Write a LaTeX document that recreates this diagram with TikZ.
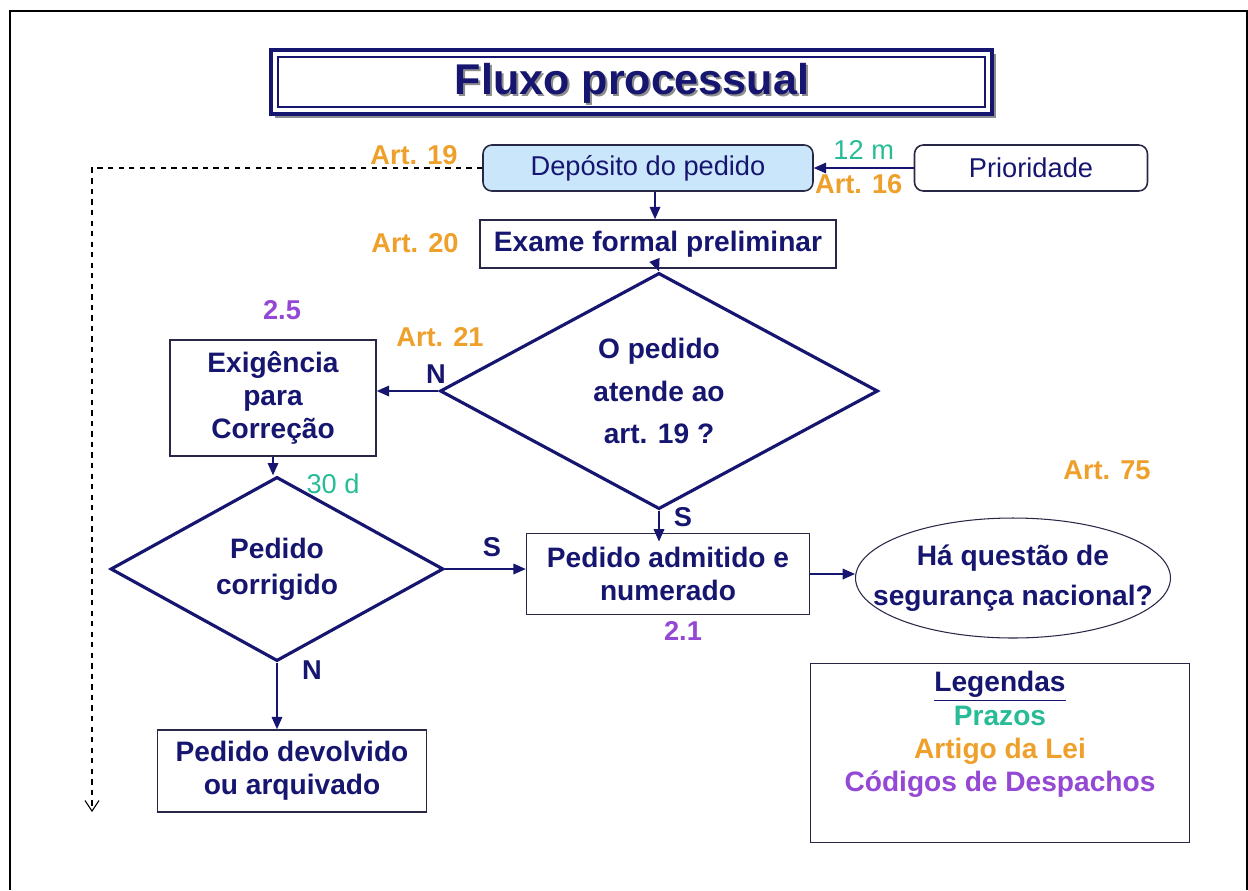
\documentclass[tikz,border=0pt]{standalone}
\usepackage{fontspec}
\setmainfont{Liberation Sans}
\usetikzlibrary{shapes.geometric,arrows.meta,positioning}
\definecolor{navy}{RGB}{22,22,112}
\definecolor{linha}{RGB}{40,40,70}
\definecolor{artigo}{RGB}{238,160,42}
\definecolor{prazo}{RGB}{40,188,150}
\definecolor{codigo}{RGB}{148,72,212}
\definecolor{azulclaro}{RGB}{202,230,250}
\newcommand{\fonte}{\fontsize{15.5}{19}\selectfont}
\newcommand{\fontecx}{\fontsize{16}{19}\selectfont}
\tikzset{
  caixa/.style={rectangle, draw=linha, line width=0.9pt, fill=white, text=navy,
    font=\fontecx\bfseries, align=center, inner sep=0pt},
  redonda/.style={caixa, rounded corners=5pt, font=\fonte},
  decisao/.style={diamond, draw=navy, line width=1.8pt, fill=white, text=navy,
    font=\fontecx\bfseries, align=center, inner sep=0pt},
  rotulo/.style={font=\fonte\bfseries, inner sep=0pt},
  seta/.style={draw=navy, line width=0.9pt, -{Triangle[length=7pt,width=6pt]}}
}
\begin{document}
\begin{tikzpicture}[x=0.02cm,y=-0.02cm]
\useasboundingbox (0,0) rectangle (1248,890);
% moldura
\draw[line width=0.6pt] (10,11) -- (1247,11);
\draw[line width=1.2pt] (10,890) -- (10,11) -- (63,11);
\draw[line width=1.2pt] (1198,11) -- (1247,11) -- (1247,890);
% titulo
\fill[black!45] (275,54) rectangle (996,118);
\draw[navy, line width=2.5pt, fill=white] (271,50) rectangle (992,114);
\draw[navy, line width=0.8pt] (278,57) rectangle (985,107);
\node[text=black!45, font=\fontsize{24.5}{28}\selectfont\bfseries] at (634,85) {Fluxo processual};
\node[text=navy, font=\fontsize{24.5}{28}\selectfont\bfseries] (tit) at (632,83) {Fluxo processual};

% caixas
\node[redonda, fill=azulclaro, minimum width=6.6cm, minimum height=0.92cm] (dep) at (648,168) {Depósito do pedido};
\node[redonda, minimum width=4.66cm, minimum height=0.92cm] (prio) at (1031,168) {Prioridade};
\node[caixa, minimum width=7.12cm, minimum height=0.96cm] (exame) at (658,244) {Exame formal preliminar};
\node[decisao, minimum width=8.76cm, minimum height=4.44cm,
  font=\fontsize{16}{24}\selectfont\bfseries] (d1) at (659,391) {O pedido\\atende ao\\art. 19 ?};
\node[caixa, minimum width=4.12cm, minimum height=2.32cm] (exig) at (273,398) {Exigência\\para\\Correção};
\node[decisao, minimum width=6.66cm, minimum height=3.04cm,
  font=\fontsize{16}{20.5}\selectfont\bfseries] (d2) at (277,569) {Pedido\\corrigido};
\node[caixa, minimum width=5.66cm, minimum height=1.62cm] (adm) at (668,574) {Pedido admitido e\\numerado};
\node[ellipse, draw=linha, line width=0.6pt, text=navy, align=center, inner sep=0pt,
  font=\fontsize{16}{22.5}\selectfont\bfseries,
  minimum width=6.3cm, minimum height=2.4cm] (ell) at (1013,578)
  {\makebox[0pt]{Há questão de}\\\makebox[0pt]{segurança nacional?}};
\node[caixa, minimum width=5.38cm, minimum height=1.64cm] (dev) at (292,771) {Pedido devolvido\\ou arquivado};

% legenda
\node[caixa, minimum width=7.58cm, minimum height=3.58cm] (leg) at (1000,753) {};
\node[anchor=north, align=center, inner sep=0pt, font=\fontsize{16}{19}\selectfont\bfseries]
  (legtxt) at (1000,671) {\textcolor{navy}{\underline{Legendas}}\\\textcolor{prazo}{Prazos}\\
  \textcolor{artigo}{Artigo da Lei}\\\textcolor{codigo}{Códigos de Despachos}};

% ligacoes
\coordinate (canto) at (92,168);
\coordinate (fim) at (92,812);
\draw[dashed, line width=0.6pt, -{Straight Barb[length=6pt,width=8pt]}] (dep.west) -- (canto) -- (fim);
\draw[seta] (prio.west) -- (dep.east)
  node[pos=0.5, above=1pt, font=\fonte, text=prazo] (p12) {12 m}
  node[pos=0.55, below=3pt, rotulo, text=artigo] (a16) {Art. 16};
\draw[seta] ([xshift=4pt]dep.south) -- ([xshift=4pt]dep.south |- exame.north);
\draw[seta] (exame.south) -- (d1.north);
\draw[seta] (d1.west) -- (d1.west -| exig.east);
\draw[seta] (exig.south) -- (exig.south |- d2.north);
\draw[seta] (d2.east) -- (d2.east -| adm.west);
\draw[seta, shorten >=-5pt] (d1.south) -- (d1.south |- adm.north);
\draw[seta] (adm.east) -- (adm.east -| ell.west);
\draw[seta] (d2.south) -- (d2.south |- dev.north);

% rotulos
\node[rotulo, text=artigo] (a19) at (414,155) {Art. 19};
\node[rotulo, text=artigo] (a20) at (415,243) {Art. 20};
\node[rotulo, text=codigo] (c25) at (282,310) {2.5};
\node[rotulo, text=artigo] (a21) at (440,337) {Art. 21};
\node[rotulo, text=navy] (n1) at (436,374) {N};
\node[font=\fonte, inner sep=0pt, text=prazo] (p30) at (333,484) {30 d};
\node[rotulo, text=navy] (s1) at (492,547) {S};
\node[rotulo, text=navy] (s2) at (683,517) {S};
\node[rotulo, text=codigo] (c21) at (683,631) {2.1};
\node[rotulo, text=artigo] (a75) at (1107,470) {Art. 75};
\node[rotulo, text=navy] (n2) at (312,670) {N};
\end{tikzpicture}
\end{document}
